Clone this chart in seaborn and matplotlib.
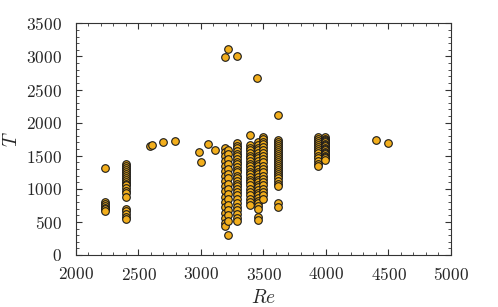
import numpy as np
import pandas as pd
import matplotlib
matplotlib.use("Agg")
import matplotlib.pyplot as plt
from matplotlib.ticker import MultipleLocator
import seaborn as sns

# ── data (Re column -> list of T values) ─────────────────────────────────────

t_2230 = [1310, 800, 770, 740, 710, 690, 670]
t_2400 = [1370, 1350, 1320, 1290, 1260, 1230, 1200, 1170, 1140, 1110, 1080,
          1050, 1010, 970, 930, 880, 700, 660, 620, 580, 540]
t_3190 = [1610, 1550, 1490, 1420, 1340, 1270, 1200, 1120, 1040, 960, 880,
          800, 720, 640, 560, 480, 440]
t_3215 = [1580, 1520, 1450, 1380, 1300, 1230, 1160, 1080, 1000, 920, 840,
          760, 680, 600, 520, 300]
t_3290 = [1690, 1650, 1610, 1570, 1530, 1490, 1450, 1410, 1370, 1330, 1290,
          1250, 1200, 1160, 1120, 1080, 1040, 1000, 950, 900, 850, 790, 730,
          680, 620, 560, 510]
t_3390 = [1820, 1660, 1620, 1580, 1540, 1500, 1460, 1420, 1380, 1340, 1300,
          1260, 1220, 1180, 1140, 1100, 1050, 1000, 950, 900, 850, 800, 760]
t_3455 = [1700, 1660, 1620, 1580, 1540, 1500, 1460, 1420, 1380, 1340, 1300,
          1260, 1220, 1180, 1140, 1100, 1060, 1020, 980, 940, 900, 860, 820,
          780, 740, 700, 580, 530]
t_3495 = [1790, 1750, 1710, 1670, 1630, 1590, 1540, 1500, 1450, 1400, 1350,
          1300, 1250, 1200, 1150, 1100, 1050, 1000, 950, 900, 850]
t_3620 = [1740, 1710, 1680, 1650, 1620, 1590, 1560, 1530, 1500, 1470, 1440,
          1410, 1380, 1350, 1320, 1290, 1260, 1230, 1200, 1160, 1120, 1080,
          1040, 790, 730]
t_3940 = [1780, 1750, 1720, 1690, 1660, 1630, 1600, 1570, 1540, 1500, 1460,
          1420, 1380, 1340]
t_3990 = [1780, 1760, 1740, 1720, 1700, 1680, 1660, 1640, 1620, 1600, 1580,
          1560, 1540, 1520, 1500, 1480, 1460, 1440]

# isolated points
re_single = [2590, 2605, 2695, 2795, 2985, 2997, 3060, 3110,
             3192, 3213, 3291, 3445, 3613, 4403, 4499]
t_single = [1645, 1655, 1700, 1725, 1560, 1405, 1670, 1590,
            2985, 3106, 3010, 2668, 2110, 1732, 1696]

columns = {2230: t_2230, 2400: t_2400, 3190: t_3190, 3215: t_3215,
           3290: t_3290, 3390: t_3390, 3455: t_3455, 3495: t_3495,
           3620: t_3620, 3940: t_3940, 3990: t_3990}

rows = [(re, t) for re, ts in columns.items() for t in ts]
rows += list(zip(re_single, t_single))
df = pd.DataFrame(rows, columns=["Re", "T"])

# ── style ─────────────────────────────────────────────────────────────────────

sns.set_style("ticks")
plt.rcParams.update({
    "font.family": "serif",
    "font.serif": ["cmr10"],
    "mathtext.fontset": "cm",
    "axes.formatter.use_mathtext": True,
    "axes.unicode_minus": False,
    "font.size": 12,
})

fig = plt.figure(figsize=(4.98, 3.07), dpi=100)
ax = fig.add_axes([0.1526, 0.1694, 0.7530, 0.7546])

sns.scatterplot(data=df, x="Re", y="T", ax=ax, s=30, color="#F2AE1C",
                edgecolor="#1a1a1a", linewidth=0.8, zorder=3)

ax.set_xlim(2000, 5000)
ax.set_ylim(0, 3500)
ax.xaxis.set_major_locator(MultipleLocator(500))
ax.xaxis.set_minor_locator(MultipleLocator(100))
ax.yaxis.set_major_locator(MultipleLocator(500))
ax.yaxis.set_minor_locator(MultipleLocator(100))
ax.tick_params(which="both", direction="in", top=True, right=True,
               color="#333333", labelsize=12.5)
ax.tick_params(which="major", length=4, width=0.8)
ax.tick_params(which="minor", length=2, width=0.6)
ax.tick_params(axis="x", which="major", pad=8)
ax.tick_params(axis="y", which="major", pad=10)
for sp in ax.spines.values():
    sp.set_color("#333333")
    sp.set_linewidth(0.8)

ax.set_xlabel(r"$Re$", fontsize=14, labelpad=4)
ax.set_ylabel(r"$T$", fontsize=14, labelpad=4)

fig.savefig("out.png", dpi=100)
